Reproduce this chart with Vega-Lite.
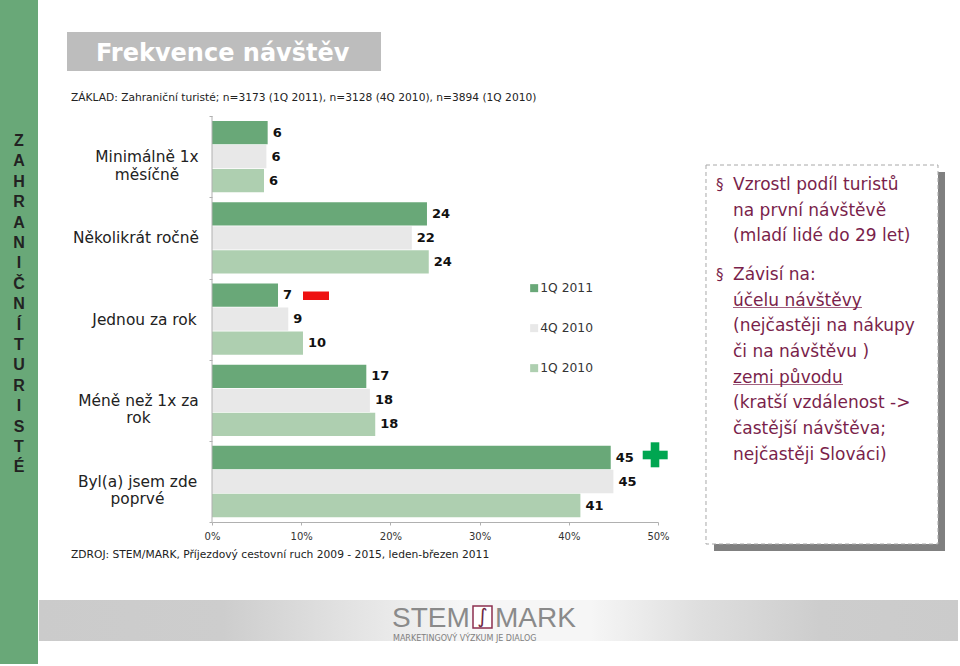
{
"$schema":"https://vega.github.io/schema/vega-lite/v6.json",
"width":446,"height":406,
"autosize":{"type":"none"},
"padding":{"left":212,"top":116,"right":302,"bottom":144},
"background":"#ffffff",
"config":{"view":{"stroke":null}},
"datasets":{
"one":[{"item":"decor"}],
"freq":[
{"freq":"Minimálně 1x měsíčně","period":"1Q 2011","share":6.24},
{"freq":"Minimálně 1x měsíčně","period":"4Q 2010","share":6.1},
{"freq":"Minimálně 1x měsíčně","period":"1Q 2010","share":5.83},
{"freq":"Několikrát ročně","period":"1Q 2011","share":24.1},
{"freq":"Několikrát ročně","period":"4Q 2010","share":22.4},
{"freq":"Několikrát ročně","period":"1Q 2010","share":24.3},
{"freq":"Jednou za rok","period":"1Q 2011","share":7.4},
{"freq":"Jednou za rok","period":"4Q 2010","share":8.55},
{"freq":"Jednou za rok","period":"1Q 2010","share":10.2},
{"freq":"Méně než 1x za rok","period":"1Q 2011","share":17.3},
{"freq":"Méně než 1x za rok","period":"4Q 2010","share":17.7},
{"freq":"Méně než 1x za rok","period":"1Q 2010","share":18.3},
{"freq":"Byl(a) jsem zde poprvé","period":"1Q 2011","share":44.7},
{"freq":"Byl(a) jsem zde poprvé","period":"4Q 2010","share":45},
{"freq":"Byl(a) jsem zde poprvé","period":"1Q 2010","share":41.3}
],
"panel":[
{"line":1,"text":"Vzrostl podíl turistů"},
{"line":2,"text":"na první návštěvě"},
{"line":3,"text":"(mladí lidé do 29 let)"},
{"line":4.5,"text":"Závisí na:"},
{"line":5.5,"text":"účelu návštěvy"},
{"line":6.5,"text":"(nejčastěji na nákupy"},
{"line":7.5,"text":"či na návštěvu )"},
{"line":8.5,"text":"zemi původu"},
{"line":9.5,"text":"(kratší vzdálenost ->"},
{"line":10.5,"text":"častější návštěva;"},
{"line":11.5,"text":"nejčastěji Slováci)"}
],
"bullets":[{"line":1,"text":"§"},{"line":4.5,"text":"§"}]
},
"layer":[
{"data":{"name":"freq"},
"transform":[{"calculate":"156.7+81.2*indexof(['Minimálně 1x měsíčně','Několikrát ročně','Jednou za rok','Méně než 1x za rok','Byl(a) jsem zde poprvé'],datum.freq)+24*(indexof(['1Q 2011','4Q 2010','1Q 2010'],datum.period)-1)","as":"rowpos"}],
"layer":[
{"mark":{"type":"bar","orient":"horizontal","size":23.3},"encoding":{
"x":{"field":"share","type":"quantitative","stack":null,"scale":{"domain":[0,50],"nice":false,"zero":false},
"axis":{"orient":"bottom","values":[0,10,20,30,40,50],"title":null,"grid":false,"labelFlush":false,"labelExpr":"datum.value+'%'","labelFont":"DejaVu Sans","labelFontSize":10,"labelColor":"#333333","labelPadding":6,"domainColor":"#b0b0b0","tickColor":"#b0b0b0","tickSize":3}},
"y":{"field":"rowpos","type":"quantitative","scale":{"domain":[0,666],"range":[-116,550],"nice":false,"zero":false,"padding":0},
"axis":{"orient":"left","title":null,"grid":false,"domain":false,"values":[116,156.7,197.3,237.9,278.5,319.1,359.7,400.3,440.9,481.5,522],"tickColor":"#b0b0b0","tickSize":3,
"tickOpacity":{"condition":{"test":"datum.value==156.7||datum.value==237.9||datum.value==319.1||datum.value==400.3||datum.value==481.5","value":0},"value":1},
"labelOverlap":false,"labelFlush":false,"labelBound":false,"labelAlign":"center","labelBaseline":"middle","labelFont":"DejaVu Sans","labelFontSize":15.4,"labelColor":"#222222","labelLimit":0,
"labelPadding":{"condition":[{"test":"datum.value==156.7","value":62.5},{"test":"datum.value==237.9","value":73.5},{"test":"datum.value==319.1","value":65},{"test":"datum.value==400.3","value":71}],"value":72},
"labelExpr":"datum.value==156.7?['Minimálně 1x','měsíčně']:datum.value==237.9?'Několikrát ročně':datum.value==319.1?'Jednou za rok':datum.value==400.3?['Méně než 1x za','rok']:datum.value==481.5?['Byl(a) jsem zde','poprvé']:''"}},
"color":{"field":"period","type":"nominal","sort":["1Q 2011","4Q 2010","1Q 2010"],"scale":{"domain":["1Q 2011","4Q 2010","1Q 2010"],"range":["#69a878","#e8e8e8","#aecfb0"]},
"legend":{"title":null,"orient":"none","legendX":316,"legendY":166,"symbolType":"square","symbolSize":64,"rowPadding":27,"labelFont":"DejaVu Sans","labelFontSize":12.3,"labelColor":"#333333","labelOffset":0,"padding":0,"symbolStrokeWidth":0}}}},
{"mark":{"type":"text","align":"left","baseline":"middle","dx":5,"font":"DejaVu Sans","fontWeight":"bold","fontSize":13,"color":"#111111"},"encoding":{
"x":{"field":"share","type":"quantitative","stack":null},
"y":{"field":"rowpos","type":"quantitative"},
"text":{"field":"share","type":"quantitative","format":".0f"}}}
]},
{"data":{"name":"one"},"layer":[
{"mark":{"type":"rule","color":"#b0b0b0"},"encoding":{"x":{"datum":0,"type":"quantitative"},"y":{"datum":116,"type":"quantitative"},"y2":{"datum":522}}},
{"mark":{"type":"rect","color":"#69a878"},"encoding":{"x":{"datum":-23.767,"type":"quantitative"},"x2":{"datum":-19.507},"y":{"datum":0,"type":"quantitative"},"y2":{"datum":664}}},
{"mark":{"type":"rect","color":"#bdbdbd"},"encoding":{"x":{"datum":-16.256,"type":"quantitative"},"x2":{"datum":18.946},"y":{"datum":32,"type":"quantitative"},"y2":{"datum":71}}},
{"mark":{"type":"rect","color":{"gradient":"linear","x1":0,"x2":1,"y1":0,"y2":0,"stops":[{"offset":0,"color":"#cbcbcb"},{"offset":0.2,"color":"#cdcdcd"},{"offset":0.36,"color":"#e6e6e6"},{"offset":0.46,"color":"#f6f6f6"},{"offset":0.6,"color":"#f6f6f6"},{"offset":0.72,"color":"#dedede"},{"offset":0.85,"color":"#cdcdcd"},{"offset":1,"color":"#cbcbcb"}]}},"encoding":{"x":{"datum":-19.395,"type":"quantitative"},"x2":{"datum":83.632},"y":{"datum":600,"type":"quantitative"},"y2":{"datum":641}}},
{"mark":{"type":"rect","color":"#808080"},"encoding":{"x":{"datum":56.278,"type":"quantitative"},"x2":{"datum":82.175},"y":{"datum":172,"type":"quantitative"},"y2":{"datum":551}}},
{"mark":{"type":"rect","fill":"#ffffff","stroke":"#a8a8a8","strokeWidth":1,"strokeDash":[4,3]},"encoding":{"x":{"datum":55.381,"type":"quantitative"},"x2":{"datum":81.390},"y":{"datum":165,"type":"quantitative"},"y2":{"datum":544}}},
{"mark":{"type":"rect","color":"#ee1111"},"encoding":{"x":{"datum":10.202,"type":"quantitative"},"x2":{"datum":13.117},"y":{"datum":291.5,"type":"quantitative"},"y2":{"datum":300}}},
{"mark":{"type":"rect","color":"#00a651"},"encoding":{"x":{"datum":48.285,"type":"quantitative"},"x2":{"datum":51.087},"y":{"datum":450.7,"type":"quantitative"},"y2":{"datum":459.3}}},
{"mark":{"type":"rect","color":"#00a651"},"encoding":{"x":{"datum":49.182,"type":"quantitative"},"x2":{"datum":50.146},"y":{"datum":442.3,"type":"quantitative"},"y2":{"datum":467.3}}},
{"mark":{"type":"rule","color":"#7a1f4b","opacity":0.7,"strokeWidth":1},"encoding":{"x":{"datum":58.408,"type":"quantitative"},"x2":{"datum":72.870},"y":{"datum":307.5,"type":"quantitative"}}},
{"mark":{"type":"rule","color":"#7a1f4b","opacity":0.7,"strokeWidth":1},"encoding":{"x":{"datum":58.408,"type":"quantitative"},"x2":{"datum":70.740},"y":{"datum":384.5,"type":"quantitative"}}},
{"mark":{"type":"rect","fill":"#ffffff","stroke":"#8c2f4f","strokeWidth":1.5},"encoding":{"x":{"datum":29.260,"type":"quantitative"},"x2":{"datum":31.390},"y":{"datum":606,"type":"quantitative"},"y2":{"datum":628}}},
{"mark":{"type":"text","text":"∫","font":"DejaVu Sans","fontSize":20,"color":"#6e2a44","align":"center","baseline":"middle"},"encoding":{"x":{"datum":30.325,"type":"quantitative"},"y":{"datum":617,"type":"quantitative"}}},
{"mark":{"type":"text","text":"STEM","font":"Liberation Sans","fontSize":28,"color":"#8a8a8a","align":"left","baseline":"alphabetic"},"encoding":{"x":{"datum":20.179,"type":"quantitative"},"y":{"datum":627,"type":"quantitative"}}},
{"mark":{"type":"text","text":"MARK","font":"Liberation Sans","fontSize":28,"color":"#8a8a8a","align":"left","baseline":"alphabetic"},"encoding":{"x":{"datum":31.726,"type":"quantitative"},"y":{"datum":627,"type":"quantitative"}}},
{"mark":{"type":"text","text":"MARKETINGOVÝ VÝZKUM JE DIALOG","font":"DejaVu Sans","fontSize":8,"color":"#808080","align":"left","baseline":"alphabetic"},"encoding":{"x":{"datum":20.291,"type":"quantitative"},"y":{"datum":640.5,"type":"quantitative"}}},
{"mark":{"type":"text","text":"Frekvence návštěv","font":"DejaVu Sans","fontWeight":"bold","fontSize":24,"color":"#ffffff","align":"left","baseline":"alphabetic"},"encoding":{"x":{"datum":-13.004,"type":"quantitative"},"y":{"datum":61,"type":"quantitative"}}},
{"mark":{"type":"text","text":"ZÁKLAD: Zahraniční turisté; n=3173 (1Q 2011), n=3128 (4Q 2010), n=3894 (1Q 2010)","font":"DejaVu Sans","fontSize":10.65,"color":"#222222","align":"left","baseline":"middle"},"encoding":{"x":{"datum":-15.807,"type":"quantitative"},"y":{"datum":98,"type":"quantitative"}}},
{"mark":{"type":"text","text":"ZDROJ: STEM/MARK, Příjezdový cestovní ruch 2009 - 2015, leden-březen 2011","font":"DejaVu Sans","fontSize":10.7,"color":"#222222","align":"left","baseline":"middle"},"encoding":{"x":{"datum":-15.807,"type":"quantitative"},"y":{"datum":555,"type":"quantitative"}}},
{"mark":{"type":"text","text":["Z","A","H","R","A","N","I","Č","N","Í","","","T","U","R","I","S","T","É"],"lineHeight":20.4,"font":"Liberation Sans","fontWeight":"bold","fontSize":16,"color":"#222222","align":"center","baseline":"top"},"encoding":{"x":{"datum":-21.637,"type":"quantitative"},"y":{"datum":133,"type":"quantitative"}}}
]},
{"data":{"name":"panel"},"transform":[{"calculate":"185+25.7*(datum.line-1)","as":"linepos"}],"mark":{"type":"text","align":"left","baseline":"middle","font":"DejaVu Sans","fontSize":17,"color":"#7a1f4b"},"encoding":{
"x":{"datum":58.408,"type":"quantitative"},
"y":{"field":"linepos","type":"quantitative"},
"text":{"field":"text","type":"nominal"}}},
{"data":{"name":"bullets"},"transform":[{"calculate":"185+25.7*(datum.line-1)","as":"linepos"}],"mark":{"type":"text","align":"left","baseline":"middle","font":"DejaVu Sans","fontSize":15,"color":"#7a1f4b"},"encoding":{
"x":{"datum":56.5,"type":"quantitative"},
"y":{"field":"linepos","type":"quantitative"},
"text":{"field":"text","type":"nominal"}}}
]
}
